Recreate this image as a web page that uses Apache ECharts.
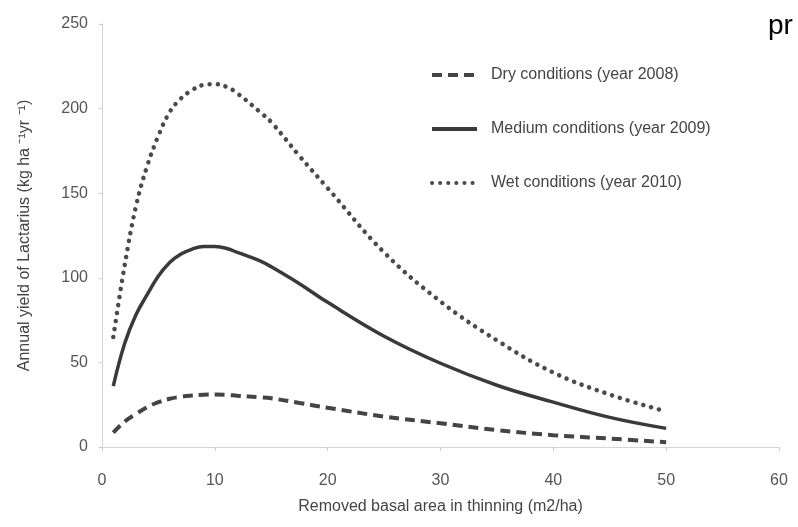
<!DOCTYPE html>
<html>
<head>
<meta charset="utf-8">
<script src="https://cdn.jsdelivr.net/npm/echarts@6/dist/echarts.min.js"></script>
<style>
  html, body { margin: 0; padding: 0; background: #fff; }
  #chart { width: 798px; height: 527px; }
</style>
</head>
<body>
<div id="chart"></div>
<script>
// Values
var basalArea = [1, 2, 3, 4, 5, 6, 7, 8, 9, 10, 11, 12, 14, 15, 17.5, 20, 25, 30, 35, 40, 45, 50];
var dryYield = [8.5, 15, 19.5, 23.5, 26.5, 28.5, 29.7, 30.4, 30.9, 31, 30.8, 30.3, 29.4, 28.8, 26, 23.2, 18, 14, 10, 7, 5, 2.8];
var mediumYield = [36, 61, 78, 90, 101, 109, 114, 117, 118.5, 118.5, 117.5, 115, 110, 106.5, 96.5, 85.5, 65.5, 49.5, 36.5, 26.5, 17.5, 11];
var wetYield = [65, 107, 142, 166, 184, 198, 206, 211, 214, 214.5, 213, 209, 198, 192, 172, 153, 115, 86, 63, 44, 31, 21];
var seriesNames = ['Dry conditions (year 2008)', 'Medium conditions (year 2009)', 'Wet conditions (year 2010)'];

function pairs(ys) {
  return basalArea.map(function(x, i) { return [x, ys[i]]; });
}

document.addEventListener('DOMContentLoaded', function() {
  var chart = echarts.init(document.getElementById('chart'), null, {renderer: 'canvas'});
  var font = '"Liberation Sans", Arial, sans-serif';

  var option = {
    animation: false,
    backgroundColor: '#fff',
    textStyle: {fontFamily: font},
    grid: {left: 102, right: 19, top: 24, bottom: 80},
    legend: {
      orient: 'vertical',
      left: 425,
      top: 62,
      itemWidth: 45,
      itemHeight: 14,
      itemGap: 38,
      itemStyle: {opacity: 0},
      lineStyle: {width: 4},
      textStyle: {fontSize: 16, color: '#444', fontFamily: font, padding: [0, 0, 0, 9]},
      data: seriesNames
    },
    xAxis: {
      type: 'value',
      min: 0,
      max: 60,
      interval: 10,
      name: 'Removed basal area in thinning (m2/ha)',
      nameLocation: 'middle',
      nameGap: 52,
      nameTextStyle: {fontSize: 16, color: '#444'},
      axisLine: {lineStyle: {color: '#ccc', width: 1, type: 'dotted'}},
      axisTick: {show: true, length: 4, lineStyle: {color: '#ccc'}},
      axisLabel: {fontSize: 16, color: '#555', margin: 26},
      splitLine: {show: false}
    },
    yAxis: {
      type: 'value',
      min: 0,
      max: 250,
      interval: 50,
      name: 'Annual yield of Lactarius (kg ha \u207B\u00B9yr \u207B\u00B9)',
      nameLocation: 'middle',
      nameRotate: 90,
      nameGap: 69,
      nameTextStyle: {fontSize: 16, color: '#444'},
      axisLine: {show: true, lineStyle: {color: '#ccc', width: 1, type: 'dotted'}},
      axisTick: {show: true, length: 3, lineStyle: {color: '#ccc'}},
      axisLabel: {fontSize: 16, color: '#555', margin: 14},
      splitLine: {show: false}
    },
    graphic: [{
      type: 'text',
      left: 768,
      top: 12,
      style: {text: 'pr', fontSize: 28, fill: '#000', fontFamily: font}
    }],
    series: [
      {
        name: seriesNames[0],
        type: 'line',
        smooth: 0.4,
        symbol: 'none',
        data: pairs(dryYield),
        lineStyle: {color: '#444', width: 4, type: [10, 6]},
        itemStyle: {color: '#444'}
      },
      {
        name: seriesNames[1],
        type: 'line',
        smooth: 0.4,
        symbol: 'none',
        data: pairs(mediumYield),
        lineStyle: {color: '#3a3a3a', width: 3.5, type: 'solid'},
        itemStyle: {color: '#3a3a3a'}
      },
      {
        name: seriesNames[2],
        type: 'line',
        smooth: 0.4,
        symbol: 'none',
        data: pairs(wetYield),
        lineStyle: {color: '#4a4a4a', width: 4.5, type: [0.1, 8], cap: 'round'},
        itemStyle: {color: '#4a4a4a'}
      }
    ]
  };

  chart.setOption(option);
});
</script>
</body>
</html>
